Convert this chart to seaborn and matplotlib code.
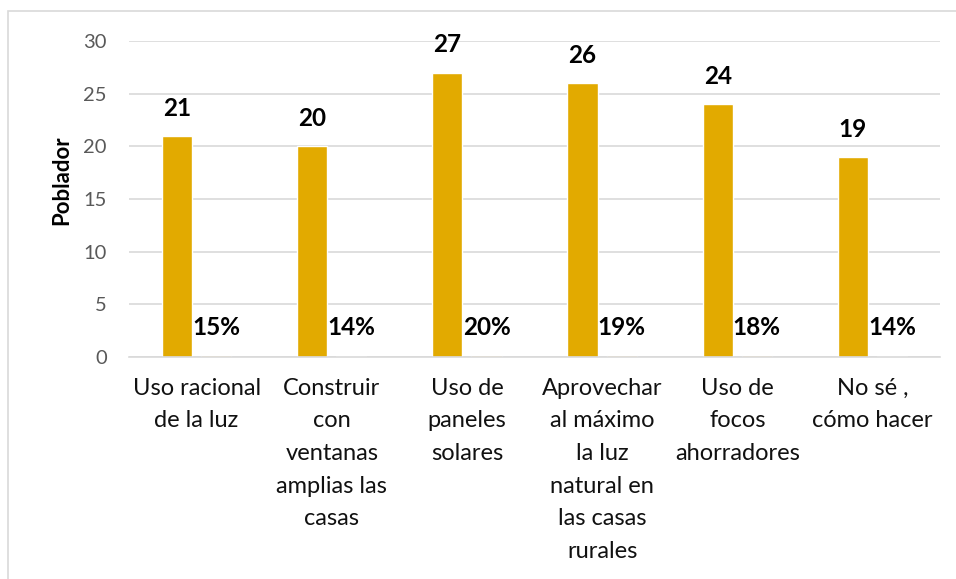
import pandas as pd
import matplotlib
matplotlib.use("Agg")
import matplotlib.pyplot as plt
import seaborn as sns
from matplotlib.patches import Rectangle

# datos
categorias = [
    "Uso racional\nde la luz",
    "Construir\ncon\nventanas\namplias las\ncasas",
    "Uso de\npaneles\nsolares",
    "Aprovechar\nal máximo\nla luz\nnatural en\nlas casas\nrurales",
    "Uso de\nfocos\nahorradores",
    "No sé ,\ncómo hacer",
]
pobladores = [21, 20, 27, 26, 24, 19]
porcentajes = [0.15, 0.14, 0.20, 0.19, 0.18, 0.14]

ORANGE = "#E2AA00"
LIGHT = "#FCDFA6"
GRID = "#D9D9D9"

df = pd.concat([
    pd.DataFrame({"cat": categorias, "serie": "Poblador", "valor": pobladores}),
    pd.DataFrame({"cat": categorias, "serie": "%", "valor": porcentajes}),
], ignore_index=True)

sns.set_theme(style="white")
plt.rcParams['font.family'] = ['Lato', 'DejaVu Sans']

fig = plt.figure(figsize=(9.56, 5.79), dpi=100)
ax = fig.add_axes([129/956, 1-357/579, 811/956, 316/579])

sns.barplot(data=df, x="cat", y="valor", hue="serie", palette=[ORANGE, LIGHT],
            width=0.58, gap=0.23, legend=False, ax=ax, saturation=1, errorbar=None)

ax.set_ylim(0, 30)
ax.set_xlim(-0.5, len(categorias) - 0.5)
ax.set_yticks(range(0, 31, 5))
ax.yaxis.grid(True, color=GRID, lw=1.2)
ax.set_axisbelow(True)
for s in ["top", "right", "left"]:
    ax.spines[s].set_visible(False)
ax.spines["bottom"].set_color(GRID)
ax.spines["bottom"].set_linewidth(1.2)

ax.tick_params(axis="y", length=0, pad=16, labelsize=14.5, labelcolor="#595959")
ax.tick_params(axis="x", length=0, pad=15, labelsize=17, labelcolor="#111111")
for lbl in ax.get_xticklabels():
    lbl.set_multialignment("center")
    lbl.set_linespacing(1.68)

ax.set_xlabel("")
ax.set_ylabel("Poblador", fontsize=16, fontweight="bold", color="#000000")
ax.yaxis.set_label_coords(-0.07, 0.56)

# etiquetas de datos
for cont, vals, fmt in zip(ax.containers, [pobladores, porcentajes],
                           [lambda v: f"{v}", lambda v: f"{v:.0%}"]):
    for bar, v in zip(cont, vals):
        ax.annotate(fmt(v), (bar.get_x() + bar.get_width()/2, bar.get_height()),
                    xytext=(0, 20), textcoords="offset points",
                    ha="center", va="center", fontsize=17.5, fontweight="bold",
                    color="#000000")

# borde del area del grafico
fig.patches.append(Rectangle((8/956, -0.2), 1.2, 1.2 - 11/579, transform=fig.transFigure,
                             fill=False, edgecolor=GRID, lw=1.2))

fig.savefig("out.png", dpi=100)
